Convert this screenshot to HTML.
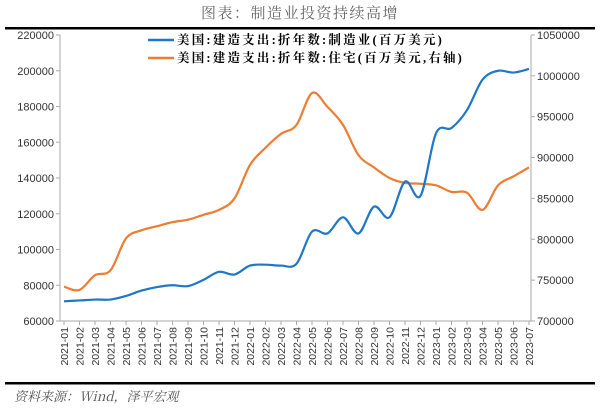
<!DOCTYPE html>
<html><head><meta charset="utf-8"><style>
body{margin:0;background:#fff;}
svg{display:block;font-family:"Liberation Sans","Noto Sans CJK SC",sans-serif;}
</style></head><body>
<svg id="c" width="600" height="408" viewBox="0 0 600 408" xmlns="http://www.w3.org/2000/svg">
<text x="300" y="18" text-anchor="middle" font-size="15" fill="#666" font-family="'Noto Serif CJK SC',serif" letter-spacing="1.5">图表：制造业投资持续高增</text>
<rect x="5" y="27" width="590" height="2.5" fill="#000"/>
<rect x="5" y="382" width="590" height="2.5" fill="#000"/>
<text x="14" y="401" font-size="13" fill="#555" font-style="italic" font-family="'Noto Serif CJK SC',serif">资料来源：Wind，泽平宏观</text>
<g id="axes"></g>
<g id="series"></g>
<g font-size="12.5" font-weight="bold" fill="#000" font-family="'Liberation Serif','Noto Serif CJK SC',serif" letter-spacing="2.2">
<line x1="148" y1="40" x2="174" y2="40" stroke="#1f77c8" stroke-width="2.5"/>
<text x="177" y="44">美国:建造支出:折年数:制造业(百万美元)</text>
<line x1="148" y1="58" x2="174" y2="58" stroke="#ed7d31" stroke-width="2.5"/>
<text x="177" y="62">美国:建造支出:折年数:住宅(百万美元,右轴)</text>
</g>
</svg>
<script>
const categories=["2021-01","2021-02","2021-03","2021-04","2021-05","2021-06","2021-07","2021-08","2021-09","2021-10","2021-11","2021-12","2022-01","2022-02","2022-03","2022-04","2022-05","2022-06","2022-07","2022-08","2022-09","2022-10","2022-11","2022-12","2023-01","2023-02","2023-03","2023-04","2023-05","2023-06","2023-07"];
const manufacturing=[71000,71500,72000,72000,74000,77000,79000,80000,79500,83000,87500,86000,91000,91500,91000,92000,110000,109000,118000,109000,124000,118000,138000,130000,165000,168000,178000,195000,200000,199000,201000];
const residential=[742000,738000,756000,762000,801000,811000,816000,821000,824000,830000,836000,850000,891000,912000,929000,940000,979000,962000,940000,903000,888000,875000,869000,868000,866000,858000,857000,836000,866000,877000,888000];
const leftTicks=[60000,80000,100000,120000,140000,160000,180000,200000,220000];
const rightTicks=[700000,750000,800000,850000,900000,950000,1000000,1050000];
const NS="http://www.w3.org/2000/svg";
const X0=60,X1=531,Y0=321,Y1=35;
const PX0=64,PX1=529;
const xc=i=>PX0+i*(PX1-PX0)/(categories.length-1);
const yl=v=>Y0-(v-60000)/(220000-60000)*(Y0-Y1);
const yr=v=>Y0-(v-700000)/(1050000-700000)*(Y0-Y1);
function mk(t,a,p){const e=document.createElementNS(NS,t);for(const k in a)e.setAttribute(k,a[k]);p.appendChild(e);return e;}
const ax=document.getElementById('axes');
let e;
e=mk('line',{x1:X0,y1:Y1,x2:X0,y2:Y0,stroke:'#aaa'},ax);


e=mk('line',{x1:X1,y1:Y1,x2:X1,y2:Y0,stroke:'#aaa'},ax);


e=mk('line',{x1:X0,y1:Y0,x2:X1,y2:Y0,stroke:'#aaa'},ax);


leftTicks.forEach(v=>{const y=yl(v);
 mk('line',{x1:X0-4,y1:y,x2:X0,y2:y,stroke:'#aaa'},ax);
 e=mk('text',{x:X0-6,y:y+4,'text-anchor':'end','font-size':11,fill:'#333'},ax);e.textContent=v;
 
 });
rightTicks.forEach(v=>{const y=yr(v);
 mk('line',{x1:X1,y1:y,x2:X1+4,y2:y,stroke:'#aaa'},ax);
 e=mk('text',{x:X1+6,y:y+4,'font-size':11,fill:'#333'},ax);e.textContent=v;
 
 });
categories.forEach((c,i)=>{const x=xc(i);
 mk('line',{x1:x,y1:Y0,x2:x,y2:Y0+4,stroke:'#aaa'},ax);
 e=mk('text',{x:x+4,y:Y0+6,'text-anchor':'end','font-size':10.5,fill:'#333',transform:`rotate(-90 ${x+4} ${Y0+6})`},ax);e.textContent=c;
 
 });
function smooth(pts){let d=`M${pts[0][0]},${pts[0][1]}`;
 for(let i=0;i<pts.length-1;i++){const p0=pts[i-1]||pts[i],p1=pts[i],p2=pts[i+1],p3=pts[i+2]||p2;
  const c1=[p1[0]+(p2[0]-p0[0])/6,p1[1]+(p2[1]-p0[1])/6],c2=[p2[0]-(p3[0]-p1[0])/6,p2[1]-(p3[1]-p1[1])/6];
  d+=`C${c1[0]},${c1[1]} ${c2[0]},${c2[1]} ${p2[0]},${p2[1]}`;}return d;}
const sg=document.getElementById('series');
e=mk('path',{d:smooth(residential.map((v,i)=>[xc(i),yr(v)])),fill:'none',stroke:'#ed7d31','stroke-width':2.2},sg);


e=mk('path',{d:smooth(manufacturing.map((v,i)=>[xc(i),yl(v)])),fill:'none',stroke:'#1f77c8','stroke-width':2.2},sg);


</script>
</body></html>
